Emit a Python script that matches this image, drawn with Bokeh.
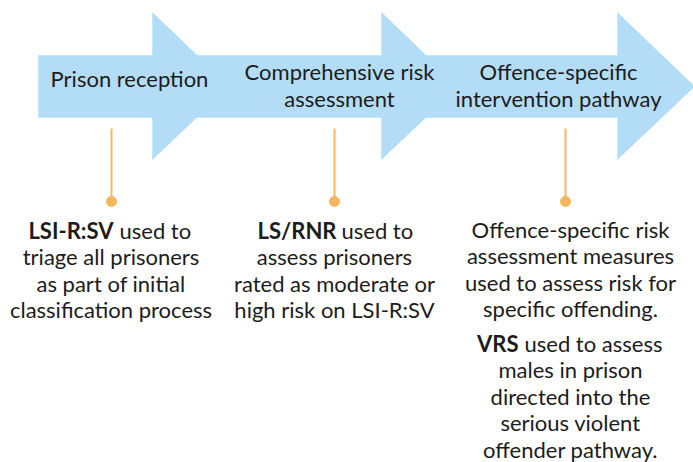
from bokeh.plotting import figure
from bokeh.models import Range1d
from bokeh.core.properties import value
from bokeh.embed import file_html
from bokeh.resources import INLINE

# ---- content ----
stage_labels = [["Prison reception"],
                ["Comprehensive risk", "assessment"],
                ["Offence-specific", "intervention pathway"]]
bold_leads = ["LSI-R:SV", "LS/RNR", None]
col1_lines = ["used to", "triage all prisoners", "as part of initial", "classification process"]
col2_lines = ["used to", "assess prisoners", "rated as moderate or", "high risk on LSI-R:SV"]
col3_lines = ["Offence-specific risk", "assessment measures", "used to assess risk for",
              "specific offending."]
col3_vrs_lead = "VRS"
col3_vrs_lines = ["used to assess", "males in prison", "directed into the",
                  "serious violent", "offender pathway."]

# ---- layout (reference pixel coordinates) ----
BLUE = "#b3dcf6"
ORANGE = "#f6b75e"
TXT = "#1c1c1c"
FONT = "Lato"
FS = "22px"

W, H = 693, 462
p = figure(width=W, height=H, output_backend="svg", toolbar_location=None,
           x_range=Range1d(0, W), y_range=Range1d(H, 0), min_border=0)
p.axis.visible = False
p.grid.visible = False
p.outline_line_color = None
p.background_fill_color = "white"

# arrow band
body_l, body_r, body_t, body_b = 38, 617, 55, 117
head_bases = [152, 381, 617]
head_t, head_b, head_len = 12, 159, 77
mid = (body_t + body_b) / 2
xs = [[body_l, body_r, body_r, body_l]]
ys = [[body_t, body_t, body_b, body_b]]
for hb in head_bases:
    xs.append([hb, hb + head_len, hb])
    ys.append([head_t, mid, head_b])
p.patches(xs, ys, fill_color=BLUE, line_color=BLUE, line_width=0.5)

# stage labels
stage_cx = [129, 339, 558]
for cx, lines in zip(stage_cx, stage_labels):
    if len(lines) == 1:
        yy = [78]
    else:
        yy = [71, 98]
    p.text(x=[cx] * len(lines), y=yy, text=lines, text_align="center",
           text_baseline="middle", text_font=value(FONT), text_font_size=FS,
           text_color=TXT)

# connectors
conn_x = [111, 334, 565]
p.segment(x0=conn_x, y0=[128] * 3, x1=conn_x, y1=[200] * 3, line_color=ORANGE, line_width=2)
p.scatter(x=conn_x, y=[201] * 3, size=10, fill_color=ORANGE, line_color=ORANGE)

LH = 26.6

def block(cx, y0, lead, lead_end, rest_start, lines):
    if lead is not None:
        p.text(x=[lead_end], y=[y0], text=[lead], text_align="right", text_baseline="middle",
               text_font=value(FONT), text_font_size=FS, text_font_style="bold", text_color=TXT)
        p.text(x=[rest_start], y=[y0], text=[lines[0]], text_align="left", text_baseline="middle",
               text_font=value(FONT), text_font_size=FS, text_color=TXT)
        others = lines[1:]
        ystart = y0 + LH
    else:
        others = lines
        ystart = y0
    yy = [ystart + i * LH for i in range(len(others))]
    p.text(x=[cx] * len(others), y=yy, text=others, text_align="center", text_baseline="middle",
           text_font=value(FONT), text_font_size=FS, text_color=TXT)

block(110.5, 229.5, bold_leads[0], 113, 119, col1_lines)
block(334, 229.5, bold_leads[1], 336, 341, col2_lines)
block(570, 228.5, None, 0, 0, col3_lines)
block(570, 342.5, col3_vrs_lead, 518, 524, col3_vrs_lines)

open("out.html", "w").write(file_html(p, INLINE))
